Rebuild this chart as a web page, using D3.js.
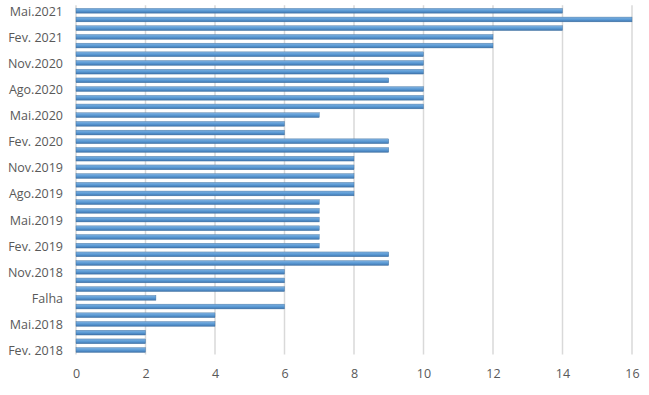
<!DOCTYPE html>
<meta charset="utf-8">
<head>
<script src="https://d3js.org/d3.v7.min.js"></script>
<style>
  body { margin: 0; background: #fff; }
  text { font-family: "Open Sans", "Liberation Sans", sans-serif; fill: #595959; }
</style>
</head>
<div id="chart"></div>
<script>
  // categories, bottom to top
  var months = ["Fev. 2018","Mar.2018","Abr.2018","Mai.2018","Jun.2018","Jul.2018","Falha","Set.2018","Out.2018","Nov.2018",
    "Dez.2018","Jan.2019","Fev. 2019","Mar.2019","Abr.2019","Mai.2019","Jun.2019","Jul.2019","Ago.2019","Set.2019",
    "Out.2019","Nov.2019","Dez.2019","Jan.2020","Fev. 2020","Mar.2020","Abr.2020","Mai.2020","Jun.2020","Jul.2020",
    "Ago.2020","Set.2020","Out.2020","Nov.2020","Dez.2020","Jan.2021","Fev. 2021","Mar.2021","Abr.2021","Mai.2021"];
  var values = [2,2,2,4,4,6,2.3,6,6,6,9,9,7,7,7,7,7,7,8,8,8,8,8,9,9,6,6,7,10,10,10,9,10,10,10,12,12,14,16,14];
  var xTicks = [0,2,4,6,8,10,12,14,16];

  var width = 649, height = 395;
  var margin = {top: 6.2, right: 17, bottom: 40.4, left: 76};

  var svg = d3.select("#chart").append("svg")
    .attr("width", width).attr("height", height);

  var defs = svg.append("defs");
  var grad = defs.append("linearGradient").attr("id", "barGrad")
    .attr("x1", 0).attr("y1", 0).attr("x2", 0).attr("y2", 1);
  grad.append("stop").attr("offset", "0%").attr("stop-color", "#7fb0e0");
  grad.append("stop").attr("offset", "50%").attr("stop-color", "#5b9bd5");
  grad.append("stop").attr("offset", "100%").attr("stop-color", "#3e73ad");

  var x = d3.scaleLinear().domain([0, 16])
    .range([margin.left, width - margin.right]);

  var data = months.map(function(m, i) { return {cat: m, value: values[i]}; });

  var y = d3.scaleBand()
    .domain(months.slice().reverse())
    .range([margin.top, height - margin.bottom])
    .paddingInner(0.45).paddingOuter(0.25);

  // gridlines
  svg.append("g").selectAll("line")
    .data(xTicks).enter().append("line")
      .attr("x1", function(d) { return x(d); })
      .attr("x2", function(d) { return x(d); })
      .attr("y1", margin.top - 1)
      .attr("y2", height - margin.bottom)
      .attr("stroke", "#d9d9d9")
      .attr("stroke-width", 1.5);

  // x axis labels
  var xAxis = svg.append("g")
    .attr("transform", "translate(0," + (height - margin.bottom + 5) + ")")
    .call(d3.axisBottom(x).tickValues(xTicks).tickSize(0).tickPadding(10));
  xAxis.select(".domain").remove();
  xAxis.selectAll("text").style("font-size", "12.5px").style("fill", "#595959");

  // y axis labels, every third month
  var shown = months.filter(function(d, i) { return i % 3 === 0; });
  var yAxis = svg.append("g")
    .attr("transform", "translate(" + (margin.left - 13) + ",1)")
    .call(d3.axisLeft(y).tickValues(shown).tickSize(0).tickPadding(0));
  yAxis.select(".domain").remove();
  yAxis.selectAll("text").style("font-size", "12.5px").style("fill", "#595959");

  // bars
  svg.append("g").selectAll("rect")
    .data(data).enter().append("rect")
      .attr("x", x(0))
      .attr("y", function(d) { return y(d.cat); })
      .attr("width", function(d) { return x(d.value) - x(0); })
      .attr("height", y.bandwidth())
      .attr("fill", "url(#barGrad)")
      .attr("stroke", "#41719c")
      .attr("stroke-width", 0.4);
</script>
